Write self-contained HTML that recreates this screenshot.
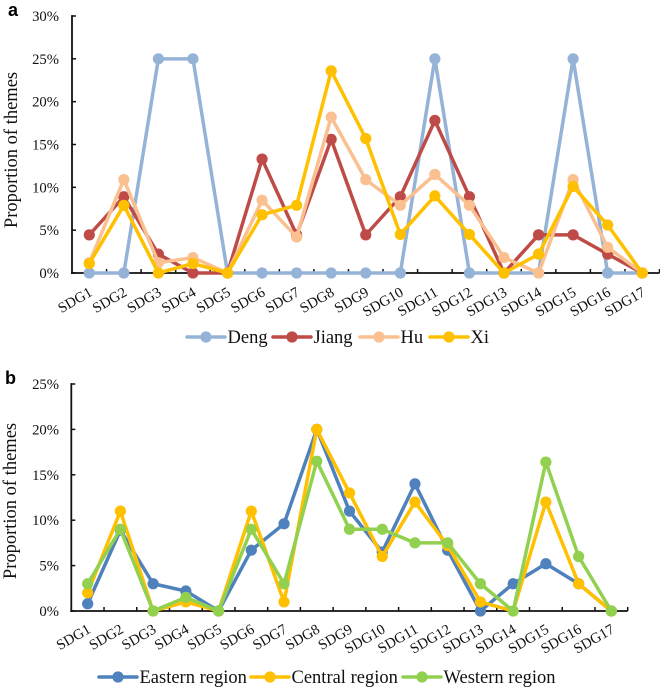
<!DOCTYPE html>
<html lang="en">
<head>
<meta charset="utf-8">
<title>Proportion of themes by SDG</title>
<style>
html,body{margin:0;padding:0;background:#fff;width:660px;height:689px;overflow:hidden}
svg{display:block}
text{font-family:"Liberation Serif",serif;fill:#111}
.panel{font-family:"Liberation Sans",sans-serif;font-weight:700;font-size:18px;fill:#000}
</style>
</head>
<body>
<svg id="root" width="660" height="689" viewBox="0 0 660 689" xmlns="http://www.w3.org/2000/svg"></svg>
<script>
const categories = ["SDG1","SDG2","SDG3","SDG4","SDG5","SDG6","SDG7","SDG8","SDG9","SDG10","SDG11","SDG12","SDG13","SDG14","SDG15","SDG16","SDG17"];
const ticksA = [0,5,10,15,20,25,30];
const ticksB = [0,5,10,15,20,25];
const deng = [0,0,25,25,0,0,0,0,0,0,25,0,0,0,25,0,0];
const jiang = [4.45,8.9,2.2,0,0,13.3,4.45,15.6,4.45,8.9,17.8,8.9,0,4.45,4.45,2.2,0];
const hu = [1.2,10.9,1.2,1.8,0,8.5,4.2,18.2,10.9,7.9,11.5,7.9,1.8,0,10.9,3,0];
const xi = [1.1,7.9,0,1.1,0,6.8,7.9,23.6,15.7,4.5,9,4.5,0,2.2,10.1,5.6,0];
const eastern = [0.8,8.9,3,2.2,0,6.7,9.6,20,11,6.5,14,6.7,0,3,5.2,3,0];
const central = [2,11,0,1,0,11,1,20,13,6,12,7.2,1,0,12,3,0];
const western = [3,9,0,1.5,0,9,3,16.5,9,9,7.5,7.5,3,0,16.4,6,0];

const root = document.getElementById('root');
const NS = 'http://www.w3.org/2000/svg';
function make(parent, tag, attrs, txt) {
  const el = document.createElementNS(NS, tag);
  for (const k in attrs) el.setAttribute(k, attrs[k]);
  if (txt !== undefined) el.textContent = txt;
  parent.appendChild(el);
  return el;
}
function drawPanel(cfg) {
  const g = make(root, 'g', {});
  
  
  const step = cfg.plotW / categories.length;
  const xAt = i => cfg.left + step * (i + 0.5);
  const yAt = v => cfg.bottom - (v / cfg.max) * cfg.plotH;

  const letter = make(g, 'text', {x: cfg.letterX, y: cfg.letterY, class: 'panel'}, cfg.key);
  
  

  const title = make(g, 'text', {transform: 'translate(' + cfg.titleX + ',' + cfg.titleY + ') rotate(-90)', 'text-anchor': 'middle', 'font-size': 18.5}, 'Proportion of themes');
  
  

  const yAxis = make(g, 'line', {x1: cfg.left, x2: cfg.left, y1: yAt(cfg.max) - 0.9, y2: cfg.bottom + 0.9, stroke: '#111', 'stroke-width': 1.8});
  
  
  const xAxis = make(g, 'line', {x1: cfg.left - 1, x2: cfg.left + cfg.plotW, y1: cfg.bottom, y2: cfg.bottom, stroke: '#111', 'stroke-width': 1.8});
  
  

  cfg.ticks.forEach(t => {
    const tick = make(g, 'line', {x1: cfg.left, x2: cfg.left + 4, y1: yAt(t), y2: yAt(t), stroke: '#111', 'stroke-width': 1.5});
    
    
    const lab = make(g, 'text', {x: 59, y: yAt(t) + 5, 'text-anchor': 'end', 'font-size': 14.7}, t + '%');
    
    
  });
  categories.forEach((c, i) => {
    const tick = make(g, 'line', {x1: cfg.left + step * (i + 1), x2: cfg.left + step * (i + 1), y1: cfg.bottom, y2: cfg.bottom - 4, stroke: '#111', 'stroke-width': 1.5});
    
    
    const lab = make(g, 'text', {transform: 'translate(' + (xAt(i) + 4) + ',' + (cfg.bottom + cfg.labelDrop) + ') rotate(-30)', 'text-anchor': 'end', 'font-size': 14.7}, c);
    
    
  });
  cfg.series.forEach(s => {
    const sg = make(g, 'g', {});
    
    
    const pts = s.values.map((v, i) => xAt(i) + ',' + yAt(v)).join(' ');
    const line = make(sg, 'polyline', {points: pts, fill: 'none', stroke: s.color, 'stroke-width': 3.5, 'stroke-linejoin': 'round', 'stroke-linecap': 'round'});
    
    
    s.values.forEach((v, i) => {
      const dot = make(sg, 'circle', {cx: xAt(i), cy: yAt(v), r: 5.6, fill: s.color});
      
      
    });
  });
  cfg.series.forEach((s, i) => {
    const lg = make(g, 'g', {});
    
    
    const lx = cfg.legendX[i];
    make(lg, 'line', {x1: lx, x2: lx + 38, y1: cfg.legendY, y2: cfg.legendY, stroke: s.color, 'stroke-width': 3.5, 'stroke-linecap': 'round'});
    make(lg, 'circle', {cx: lx + 19, cy: cfg.legendY, r: 5.6, fill: s.color});
    make(lg, 'text', {x: lx + 40.5, y: cfg.legendY + 6, 'font-size': 18.5}, s.name);
  });
}
drawPanel({
  key: 'a', left: 72, bottom: 273, plotW: 587.5, plotH: 257, max: 30, ticks: ticksA, labelDrop: 22,
  letterX: 8, letterY: 16, titleX: 17, titleY: 150, legendY: 337, legendX: [187, 273, 360, 430],
  series: [
    {name: 'Deng', color: '#95B3D7', values: deng},
    {name: 'Jiang', color: '#BE4B48', values: jiang},
    {name: 'Hu', color: '#FAC090', values: hu},
    {name: 'Xi', color: '#FFC000', values: xi}
  ]
});
drawPanel({
  key: 'b', left: 71.3, bottom: 611, plotW: 556.4, plotH: 227, max: 25, ticks: ticksB, labelDrop: 21,
  letterX: 5, letterY: 384, titleX: 16, titleY: 501, legendY: 677, legendX: [99, 251, 403],
  series: [
    {name: 'Eastern region', color: '#4F81BD', values: eastern},
    {name: 'Central region', color: '#FFC000', values: central},
    {name: 'Western region', color: '#92D050', values: western}
  ]
});
</script>
</body>
</html>
